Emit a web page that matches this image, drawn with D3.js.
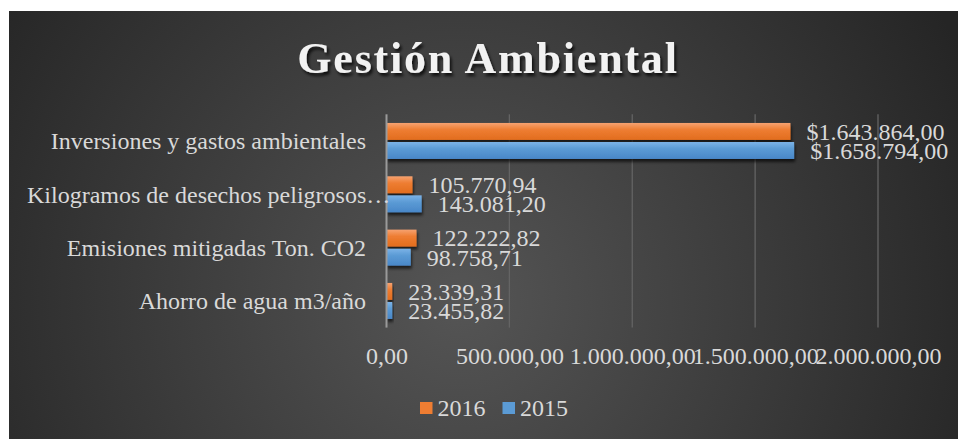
<!DOCTYPE html>
<html>
<head>
<meta charset="utf-8">
<script src="https://cdn.jsdelivr.net/npm/d3@7"></script>
<style>
  html, body { margin: 0; padding: 0; background: #ffffff; }
  text { font-family: "Liberation Serif", "Times New Roman", serif; }
</style>
</head>
<body>
<div id="container"></div>
<script>
const categories = [
    "Inversiones y gastos ambientales",
    "Kilogramos de desechos peligrosos…",
    "Emisiones mitigadas Ton. CO2",
    "Ahorro de agua m3/año"
];
const seriesNames = ["2016", "2015"];
const values2016 = [1643864.00, 105770.94, 122222.82, 23339.31];
const values2015 = [1658794.00, 143081.20, 98758.71, 23455.82];
const labelPrefix = ["$", "", "", ""];
const tickValues = [0, 500000, 1000000, 1500000, 2000000];
const title = "Gestión Ambiental";

const WIDTH = 958,
      HEIGHT = 439;

const plot = { left: 386.5, right: 878, top: 114.3, bottom: 327.6 };

const colors = { "2016": ["#f6a271", "#ee7d32", "#e26d1e"],
                 "2015": ["#7cb3e7", "#5b9bd5", "#4987c8"] };

const es = d3.formatLocale({ decimal: ",", thousands: ".", grouping: [3], currency: ["$", ""] });
const fmt = es.format(",.2f");

const data = categories.map((c, i) => ({
    category: c,
    prefix: labelPrefix[i],
    values: [
        { key: "2016", value: values2016[i] },
        { key: "2015", value: values2015[i] }
    ]
}));

const svg = d3.select("#container").append("svg")
    .attr("width", WIDTH).attr("height", HEIGHT);

const defs = svg.append("defs");

const bg = defs.append("radialGradient").attr("id", "bg")
    .attr("gradientUnits", "userSpaceOnUse")
    .attr("cx", 460).attr("cy", 300).attr("r", 560);
bg.append("stop").attr("offset", 0).attr("stop-color", "#555555");
bg.append("stop").attr("offset", 1).attr("stop-color", "#252525");

seriesNames.forEach((s) => {
    const g = defs.append("linearGradient").attr("id", "grad" + s)
        .attr("x1", 0).attr("y1", 0).attr("x2", 0).attr("y2", 1);
    g.append("stop").attr("offset", 0).attr("stop-color", colors[s][0]);
    g.append("stop").attr("offset", 0.4).attr("stop-color", colors[s][1]);
    g.append("stop").attr("offset", 1).attr("stop-color", colors[s][2]);
});

const shadow = defs.append("filter").attr("id", "shadow")
    .attr("x", "-10%").attr("y", "-30%").attr("width", "130%").attr("height", "190%");
shadow.append("feDropShadow").attr("dx", 1).attr("dy", 3)
    .attr("stdDeviation", 1.6).attr("flood-color", "#000").attr("flood-opacity", 0.65);

const titleShadow = defs.append("filter").attr("id", "tshadow")
    .attr("x", "-10%").attr("y", "-30%").attr("width", "120%").attr("height", "170%");
titleShadow.append("feDropShadow").attr("dx", 2).attr("dy", 3)
    .attr("stdDeviation", 1.8).attr("flood-color", "#000").attr("flood-opacity", 0.75);

svg.append("rect")
    .attr("x", 9).attr("y", 11)
    .attr("width", WIDTH - 9).attr("height", HEIGHT - 11)
    .attr("fill", "url(#bg)");

svg.append("text")
    .attr("x", 488).attr("y", 72.5)
    .attr("text-anchor", "middle")
    .attr("font-size", 44)
    .attr("font-weight", "bold")
    .attr("letter-spacing", 1.8)
    .attr("fill", "#f2f2f2")
    .attr("filter", "url(#tshadow)")
    .text(title);

const xScale = d3.scaleLinear()
    .domain([0, d3.max(tickValues)])
    .range([plot.left, plot.right]);

const yScale = d3.scaleBand()
    .domain(categories)
    .range([plot.top, plot.bottom])
    .paddingInner(0.325)
    .paddingOuter(0.1625);

const ySub = d3.scaleBand()
    .domain(seriesNames)
    .range([0, yScale.bandwidth()])
    .paddingInner(0.11);

// gridlines
svg.append("g")
    .selectAll("line")
    .data(tickValues.slice(1))
    .join("line")
    .attr("x1", (d) => xScale(d)).attr("x2", (d) => xScale(d))
    .attr("y1", plot.top).attr("y2", plot.bottom)
    .attr("stroke", "#646464")
    .attr("stroke-width", 1.3);

// x axis labels
const xAxis = d3.axisBottom(xScale)
    .tickValues(tickValues)
    .tickSize(0)
    .tickFormat(fmt);

svg.append("g")
    .attr("transform", `translate(0, ${plot.bottom})`)
    .call(xAxis)
    .call((g) => g.select(".domain").remove())
    .selectAll("text")
    .attr("y", 36.5)
    .attr("dy", 0)
    .attr("font-size", 24)
    .attr("font-family", "'Liberation Serif', 'Times New Roman', serif")
    .attr("fill", "#d9d9d9");

// bars
const groups = svg.append("g")
    .selectAll("g")
    .data(data)
    .join("g")
    .attr("transform", (d) => `translate(0, ${yScale(d.category)})`);

groups.selectAll("rect")
    .data((d) => d.values)
    .join("rect")
    .attr("x", xScale(0))
    .attr("y", (d) => ySub(d.key))
    .attr("width", (d) => xScale(d.value) - xScale(0))
    .attr("height", ySub.bandwidth())
    .attr("fill", (d) => `url(#grad${d.key})`)
    .attr("filter", "url(#shadow)");

groups.selectAll("text.value")
    .data((d) => d.values.map((v) => ({ ...v, prefix: d.prefix })))
    .join("text")
    .attr("class", "value")
    .attr("x", (d) => xScale(d.value) + 16)
    .attr("y", (d) => ySub(d.key) + ySub.bandwidth() / 2)
    .attr("dy", "0.35em")
    .attr("font-size", 24)
    .attr("fill", "#d9d9d9")
    .text((d) => d.prefix + fmt(d.value));

// category axis line
svg.append("line")
    .attr("x1", xScale(0)).attr("x2", xScale(0))
    .attr("y1", plot.top).attr("y2", plot.bottom)
    .attr("stroke", "#9a9a9a")
    .attr("stroke-width", 2);

// category labels (truncated ones get pushed to the left edge)
const labelRight = 366, labelLeft = 27;
svg.append("g")
    .selectAll("text")
    .data(categories)
    .join("text")
    .attr("y", (d) => yScale(d) + yScale.bandwidth() / 2)
    .attr("dy", "0.35em")
    .attr("text-anchor", "start")
    .attr("font-size", 24)
    .attr("fill", "#d9d9d9")
    .text((d) => d)
    .attr("x", function () {
        const w = this.getComputedTextLength();
        return w > labelRight - labelLeft ? labelLeft : labelRight - w;
    });

// legend
const legend = svg.append("g");
const legendItems = legend.selectAll("g")
    .data(seriesNames)
    .join("g");

legendItems.append("rect")
    .attr("y", 402).attr("width", 12.5).attr("height", 12)
    .attr("fill", (d) => colors[d][1]);

legendItems.append("text")
    .attr("x", 17.5).attr("y", 415.5)
    .attr("font-size", 24)
    .attr("fill", "#d9d9d9")
    .text((d) => d);

let lx = 0;
legendItems.each(function () {
    d3.select(this).attr("transform", `translate(${lx}, 0)`);
    lx += this.getBBox().width + 17;
});
legend.attr("transform", `translate(${494 - (lx - 17) / 2}, 0)`);
</script>
</body>
</html>
